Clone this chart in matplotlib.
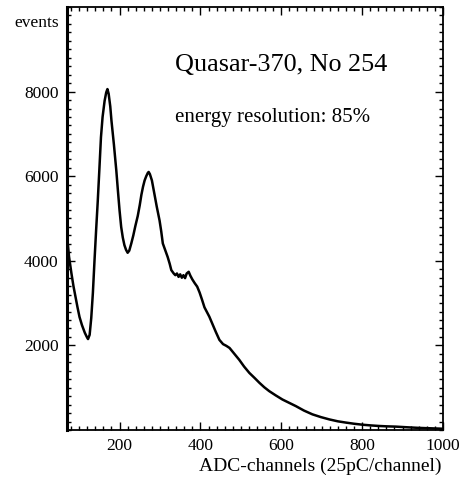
import matplotlib.pyplot as plt
from matplotlib.ticker import MultipleLocator

# spectrum
channels = [70, 75, 81, 86, 91, 96, 101, 107, 114, 119, 122, 126, 130, 134, 138, 142,
            146, 150, 154, 158, 163, 167, 170, 173, 177, 180, 186, 192, 196, 200, 204,
            208, 212, 216, 220, 224, 229, 234, 239, 245, 250, 254, 258, 262, 266, 270,
            272, 275, 280, 286, 292, 299, 303, 307, 313, 319, 324, 328, 334, 338, 342,
            346, 350, 354, 358, 362, 366, 371, 375, 380, 386, 392, 398, 404, 410, 416,
            422, 430, 438, 447, 456, 464, 472, 484, 496, 508, 521, 534, 546, 558, 570,
            586, 603, 620, 636, 656, 677, 698, 719, 740, 760, 780, 801, 822, 842, 862,
            883, 910, 940, 970, 1000]
events = [4600, 4100, 3700, 3400, 3150, 2900, 2670, 2480, 2300, 2200, 2150, 2250, 2650,
          3240, 4000, 4720, 5400, 6150, 6920, 7400, 7780, 7980, 8060, 7950, 7650, 7310,
          6750, 6130, 5650, 5190, 4800, 4550, 4370, 4260, 4190, 4240, 4410, 4600, 4820,
          5060, 5320, 5560, 5750, 5900, 6000, 6080, 6100, 6050, 5900, 5590, 5280, 4950,
          4700, 4410, 4250, 4090, 3930, 3780, 3700, 3660, 3700, 3620, 3680, 3600, 3660,
          3590, 3700, 3740, 3650, 3560, 3470, 3390, 3250, 3080, 2900, 2790, 2680, 2500,
          2320, 2130, 2030, 1990, 1940, 1800, 1660, 1500, 1350, 1230, 1115, 1010, 920,
          820, 720, 640, 565, 460, 370, 305, 250, 205, 175, 148, 125, 108, 95, 86, 80,
          65, 50, 40, 30]

xticks = [200, 400, 600, 800, 1000]
yticks = [2000, 4000, 6000, 8000]

plt.rcParams['font.family'] = ['Liberation Serif', 'DejaVu Serif']

fig = plt.figure(figsize=(4.59, 4.86), dpi=100)
ax = fig.add_axes([67/459, 56/486, 376/459, 423/486])

ax.plot(channels, events, color='black', lw=1.8)

ax.set_xlim(70, 1000)
ax.set_ylim(0, 10000)
ax.set_xticks(xticks)
ax.set_yticks(yticks)
ax.xaxis.set_minor_locator(MultipleLocator(20))
ax.yaxis.set_minor_locator(MultipleLocator(200))
ax.tick_params(which='both', direction='in', top=True, right=True, width=1)
ax.tick_params(which='major', length=6, labelsize=12.5, pad=6)
ax.tick_params(which='minor', length=3)
for s in ax.spines.values():
    s.set_linewidth(1.3)
ax.spines['left'].set_linewidth(2.2)

ax.text(-0.02, 0.962, 'events', transform=ax.transAxes, ha='right', va='center', fontsize=12.5)
ax.text(0.995, -0.085, 'ADC-channels (25pC/channel)', transform=ax.transAxes,
        ha='right', va='center', fontsize=14)
ax.text(0.288, 0.862, 'Quasar-370, No 254', transform=ax.transAxes, fontsize=18.8, va='center')
ax.text(0.288, 0.739, 'energy resolution: 85%', transform=ax.transAxes, fontsize=15,
        va='center')

fig.savefig('out.png', dpi=100)
